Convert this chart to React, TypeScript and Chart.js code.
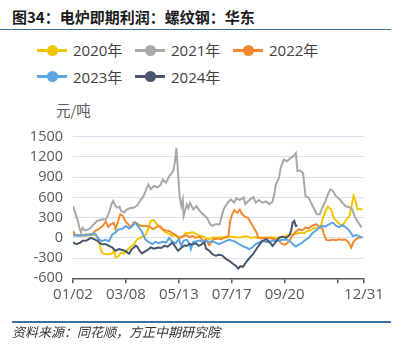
import React, { useEffect, useRef } from 'react';
import { Chart, registerables } from 'chart.js';

Chart.register(...registerables);

const seriesNames = ['2020年', '2021年', '2022年', '2023年', '2024年'];
const seriesColors = ['#F5C400', '#A9A9A9', '#F18A2E', '#5DA5E2', '#47566E'];

const xTickDays = [0, 66, 132, 198, 264, 330, 363];
const xTickLabels = ['01/02', '03/08', '05/13', '07/17', '09/20', '', '12/31'];
const yTickValues = [-600, -300, 0, 300, 600, 900, 1200, 1500];

const days2020 = [0,4,9,15,20,24,28,32,34,36,39,44,49,51,53,57,60,63,67,71,76,80,84,88,91,94,97,100,103,106,110,114,118,121,124,128,132,136,141,145,149,153,158,162,166,170,175,180,186,192,198,204,210,216,222,228,234,240,246,252,258,264,270,276,283,288,292,297,301,305,309,312,315,318,322,325,328,333,336,340,345,348,350,352,355,361];
const values2020 = [54,40,30,35,40,45,54,-20,-143,-217,-240,-245,-230,-180,-290,-270,-217,-235,-192,-143,-93,-20,0,30,50,150,251,265,230,180,140,90,70,54,30,45,-20,10,75,70,85,60,30,20,0,-20,10,0,10,0,20,5,10,25,0,10,5,0,10,0,5,20,50,55,75,70,100,110,152,130,180,300,398,460,420,300,260,202,177,250,330,500,620,560,424,424];

const days2021 = [0,2,4,6,8,10,12,15,18,22,26,30,37,41,43,45,48,50,53,55,58,60,64,67,71,76,80,85,88,92,94,97,101,105,109,112,116,120,125,127,129,131,133,135,137,138,142,144,146,150,154,158,162,167,171,174,178,183,185,188,193,197,201,204,208,213,215,220,225,228,232,236,241,245,249,251,253,257,259,263,267,271,275,278,280,283,287,290,294,297,301,304,308,311,315,318,321,324,328,332,336,340,345,348,352,356,360];
const values2021 = [472,398,325,251,152,79,150,110,120,150,202,251,275,270,325,373,497,546,472,447,460,398,375,420,440,450,480,571,620,742,792,720,770,750,780,866,817,915,989,1111,1333,964,620,472,570,325,497,440,520,422,470,400,350,300,202,177,202,202,300,424,521,571,521,590,560,600,500,560,605,521,560,521,540,500,540,645,792,890,1038,1161,1136,1180,1210,1259,989,1000,960,620,595,520,424,350,350,447,547,645,719,700,620,580,521,472,450,430,300,226,152];

const days2022 = [0,2,6,10,17,24,28,32,37,41,44,47,51,53,57,59,62,65,69,72,76,80,85,90,95,100,104,108,112,116,120,124,128,133,137,141,145,149,153,158,162,166,170,173,175,180,185,190,194,196,198,201,205,208,211,215,218,220,223,226,229,231,235,240,246,252,257,261,265,269,273,277,282,286,290,294,298,303,307,311,313,316,320,324,328,332,336,340,344,347,350,353,357,361];
const values2022 = [103,54,30,40,50,50,103,128,177,240,160,200,220,128,275,350,330,251,200,160,230,210,177,177,170,128,160,177,130,110,103,70,40,5,20,40,10,30,0,20,-44,-30,-110,-60,-20,-10,-20,10,30,250,330,410,370,420,350,310,300,260,200,140,80,0,-10,0,-5,-20,-44,-93,-100,-60,20,80,128,110,152,140,177,202,160,140,54,-30,-40,-25,-35,-20,-30,-25,-69,-143,-60,-20,5,10];

const days2023 = [0,5,10,16,20,24,28,32,36,40,45,49,53,57,61,66,70,74,78,82,86,90,94,99,103,107,112,116,120,124,128,132,135,138,142,145,147,150,154,158,162,166,170,174,178,182,186,191,195,199,203,207,211,216,220,224,228,232,236,241,245,249,253,257,261,266,270,274,278,282,286,290,294,298,303,307,311,315,320,324,328,332,336,340,345,349,353,357,361];
const values2023 = [30,40,35,40,45,60,54,-20,-50,-30,-50,50,80,128,130,177,140,177,226,160,90,-20,-60,-93,-60,-80,-60,-70,0,-60,-80,-20,-120,-40,-30,-80,-167,-60,-50,-40,-60,-44,-60,-50,-70,-93,-75,-44,-30,-44,-60,-93,-118,-143,-167,-140,-93,-69,-44,-60,-60,-44,-40,-44,-30,-30,-40,-93,-130,-100,-69,-30,0,60,110,152,177,170,202,226,180,160,190,160,103,25,40,25,0];

const days2024 = [0,4,9,12,17,22,26,30,35,41,45,49,53,57,62,66,70,73,76,78,80,83,86,90,94,97,101,106,110,114,118,122,124,128,131,135,139,142,145,149,153,157,160,164,166,170,174,178,182,186,191,195,199,203,206,209,212,216,220,224,228,232,236,241,245,249,253,257,261,266,270,272,274,276,278,280];
const values2024 = [-69,-93,-70,-44,-40,0,-20,-40,-93,-95,-118,-143,-192,-167,-180,-200,-235,-170,-143,-118,-130,-190,-230,-200,-170,-143,-160,-143,-150,-118,-130,-93,-69,-140,-192,-150,-110,-120,-93,-100,-80,-118,-100,-69,-160,-192,-241,-266,-250,-260,-315,-340,-380,-413,-455,-420,-430,-360,-300,-250,-180,-110,-50,-20,-60,-118,-60,0,20,0,40,103,226,250,177,185];

const seriesDays = [days2020, days2021, days2022, days2023, days2024];
const seriesValues = [values2020, values2021, values2022, values2023, values2024];

const FONT = '"Open Sans", "Noto Sans CJK SC", sans-serif';
const CJK = '"Noto Sans CJK SC", "Open Sans", sans-serif';

export default function App() {
  const ref = useRef<HTMLCanvasElement | null>(null);

  useEffect(() => {
    if (!ref.current) return;
    const datasets = seriesNames.map((name, i) => ({
      label: name,
      data: seriesDays[i].map((d, j) => ({ x: d, y: seriesValues[i][j] })),
      borderColor: seriesColors[i],
      backgroundColor: seriesColors[i],
      borderWidth: 2,
      pointRadius: 0,
      tension: 0,
      fill: false,
      order: seriesNames.length - 1 - i,
    }));
    const chart = new Chart(ref.current, {
      type: 'line',
      data: { datasets },
      options: {
        animation: false,
        responsive: false,
        maintainAspectRatio: false,
        layout: { padding: { left: 0, right: 37, top: 17.7, bottom: 0 } },
        plugins: { legend: { display: false }, tooltip: { enabled: false } },
        scales: {
          x: {
            type: 'linear',
            min: 0,
            max: 363,
            afterBuildTicks: (s: any) => {
              s.ticks = xTickDays.map((v) => ({ value: v }));
            },
            afterFit: (s: any) => {
              s.height = 33.7;
            },
            ticks: {
              autoSkip: false,
              maxRotation: 0,
              padding: 2,
              color: '#595959',
              font: { family: FONT, size: 15 },
              callback: (v: any) => {
                const k = xTickDays.indexOf(Number(v));
                return k >= 0 ? xTickLabels[k] : '';
              },
            },
            grid: { drawOnChartArea: false, drawTicks: true, tickLength: 5, color: '#595959', lineWidth: 1.5 },
            border: { display: true, color: '#595959', width: 1.5 },
          },
          y: {
            type: 'linear',
            min: -600,
            max: 1500,
            afterBuildTicks: (s: any) => {
              s.ticks = yTickValues.map((v) => ({ value: v }));
            },
            afterFit: (s: any) => {
              s.width = 73;
            },
            ticks: {
              autoSkip: false,
              padding: 10,
              color: '#595959',
              font: { family: FONT, size: 14.5 },
              callback: (v: any) => String(v),
            },
            grid: { color: '#DCDFEE', lineWidth: 1, drawTicks: false },
            border: { display: false },
          },
        },
      },
    });
    return () => chart.destroy();
  }, []);

  return (
    <div style={{ position: 'absolute', left: 0, top: 0, width: 401, height: 359, background: '#fff', overflow: 'hidden' }}>
      <div style={{ position: 'absolute', left: 12, top: 7, lineHeight: '20px', fontFamily: CJK, fontWeight: 700, fontSize: 15, color: '#1a1a1a', whiteSpace: 'nowrap' }}>
        图34：电炉即期利润：螺纹钢：华东
      </div>
      <div style={{ position: 'absolute', left: 0, top: 28.5, width: 391, height: 1.5, background: '#3E6FA3' }} />
      {seriesNames.map((name, i) => {
        const col = i % 3;
        const row = Math.floor(i / 3);
        const left = 37 + col * 98;
        const cy = 50 + row * 26.5;
        return (
          <div key={name}>
            <div style={{ position: 'absolute', left, top: cy - 1.5, width: 30, height: 3, background: seriesColors[i] }} />
            <div style={{ position: 'absolute', left: left + 9.5, top: cy - 5.5, width: 11, height: 11, borderRadius: '50%', background: seriesColors[i] }} />
            <div style={{ position: 'absolute', left: left + 36, top: cy - 10, lineHeight: '20px', fontFamily: FONT, fontSize: 15, color: '#404040', whiteSpace: 'nowrap' }}>
              {name}
            </div>
          </div>
        );
      })}
      <div style={{ position: 'absolute', left: 56, top: 100, lineHeight: '20px', fontFamily: CJK, fontSize: 14.5, color: '#595959', whiteSpace: 'nowrap' }}>
        元/吨
      </div>
      <canvas ref={ref} width={401} height={194} style={{ position: 'absolute', left: 0, top: 118, width: 401, height: 194 }} />
      <div style={{ position: 'absolute', left: -6, top: 282, lineHeight: '20px', fontFamily: FONT, fontSize: 15, color: '#595959' }}>1</div>
      <div style={{ position: 'absolute', left: 12, top: 321, width: 379, height: 1.5, background: '#3E6FA3' }} />
      <div style={{ position: 'absolute', left: 12, top: 323, lineHeight: '18px', fontFamily: CJK, fontStyle: 'italic', fontSize: 13, color: '#333', whiteSpace: 'nowrap' }}>
        资料来源：同花顺，方正中期研究院
      </div>
    </div>
  );
}
